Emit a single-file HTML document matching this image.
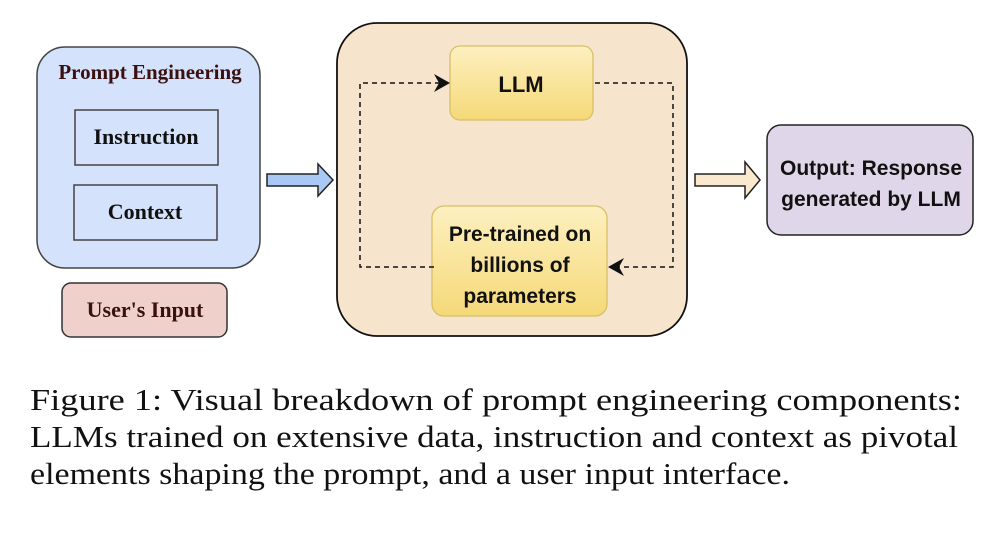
<!DOCTYPE html>
<html><head><meta charset="utf-8"><style>
html,body{margin:0;padding:0;background:#fff;}
svg{display:block;}
</style></head><body>
<svg width="999" height="533" viewBox="0 0 999 533" xmlns="http://www.w3.org/2000/svg">
<defs>
<linearGradient id="yg" x1="0" y1="0" x2="0" y2="1"><stop offset="0" stop-color="#fdf0c0"/><stop offset="1" stop-color="#f5d978"/></linearGradient>
</defs>
<!-- Left box -->
<rect x="37" y="47" width="223" height="221" rx="28" fill="#d4e3fb" stroke="#444" stroke-width="1.5"/>
<text x="150" y="79" text-anchor="middle" font-family="Liberation Serif,serif" font-weight="bold" font-size="21" fill="#3a1010">Prompt Engineering</text>
<rect x="75" y="110" width="143" height="55" fill="#d4e3fb" stroke="#444" stroke-width="1.5"/>
<text x="146" y="144" text-anchor="middle" font-family="Liberation Serif,serif" font-weight="bold" font-size="22" fill="#111">Instruction</text>
<rect x="74" y="185" width="143" height="55" fill="#d4e3fb" stroke="#444" stroke-width="1.5"/>
<text x="145" y="219" text-anchor="middle" font-family="Liberation Serif,serif" font-weight="bold" font-size="22" fill="#111">Context</text>
<rect x="62" y="283" width="165" height="54" rx="9" fill="#efd0cb" stroke="#333" stroke-width="1.5"/>
<text x="145" y="317" text-anchor="middle" font-family="Liberation Serif,serif" font-weight="bold" font-size="22" fill="#3a1010">User's Input</text>
<!-- arrow 1 -->
<polygon points="267,174 318,174 318,164 333,180 318,196 318,186 267,186" fill="#a9c8f5" stroke="#222" stroke-width="1.5"/>
<!-- middle box -->
<rect x="337" y="23" width="350" height="313" rx="40" fill="#f6e5cc" stroke="#111" stroke-width="1.8"/>
<rect x="450" y="46" width="143" height="74" rx="10" fill="url(#yg)" stroke="#d8bf6a" stroke-width="1.3"/>
<text x="521" y="92" text-anchor="middle" font-family="Liberation Sans,sans-serif" font-weight="bold" font-size="22" fill="#111">LLM</text>
<rect x="432" y="206" width="175" height="110" rx="12" fill="url(#yg)" stroke="#d8bf6a" stroke-width="1.3"/>
<text text-anchor="middle" font-family="Liberation Sans,sans-serif" font-weight="bold" font-size="21" fill="#111">
<tspan x="520" y="241">Pre-trained on</tspan><tspan x="520" y="272">billions of</tspan><tspan x="520" y="303">parameters</tspan></text>
<g fill="none" stroke="#111" stroke-width="1.5" stroke-dasharray="5,4">
<polyline points="434,267 360,267 360,83 440,83"/>
<polyline points="595,83 673,83 673,267 618,267"/>
</g>
<polygon points="450,83 434,74 439,83 434,92" fill="#111"/>
<polygon points="608,267 624,258 619,267 624,276" fill="#111"/>
<!-- arrow 2 -->
<polygon points="695,174 745,174 745,162 760,180 745,198 745,186 695,186" fill="#fbe9cf" stroke="#222" stroke-width="1.5"/>
<!-- output -->
<rect x="767" y="125" width="206" height="110" rx="14" fill="#e0d6ea" stroke="#222" stroke-width="1.5"/>
<text text-anchor="middle" font-family="Liberation Sans,sans-serif" font-weight="bold" font-size="21" fill="#111">
<tspan x="871" y="175">Output: Response</tspan><tspan x="871" y="206">generated by LLM</tspan></text>
<!-- caption -->
<g font-family="Liberation Serif,serif" font-size="31" fill="#111">
<text x="30" y="410" textLength="932" lengthAdjust="spacingAndGlyphs">Figure 1:  Visual breakdown of prompt engineering components:</text>
<text x="30" y="447" textLength="928" lengthAdjust="spacingAndGlyphs">LLMs trained on extensive data, instruction and context as pivotal</text>
<text x="30" y="484" textLength="760" lengthAdjust="spacingAndGlyphs">elements shaping the prompt, and a user input interface.</text>
</g>
</svg>
</body></html>
